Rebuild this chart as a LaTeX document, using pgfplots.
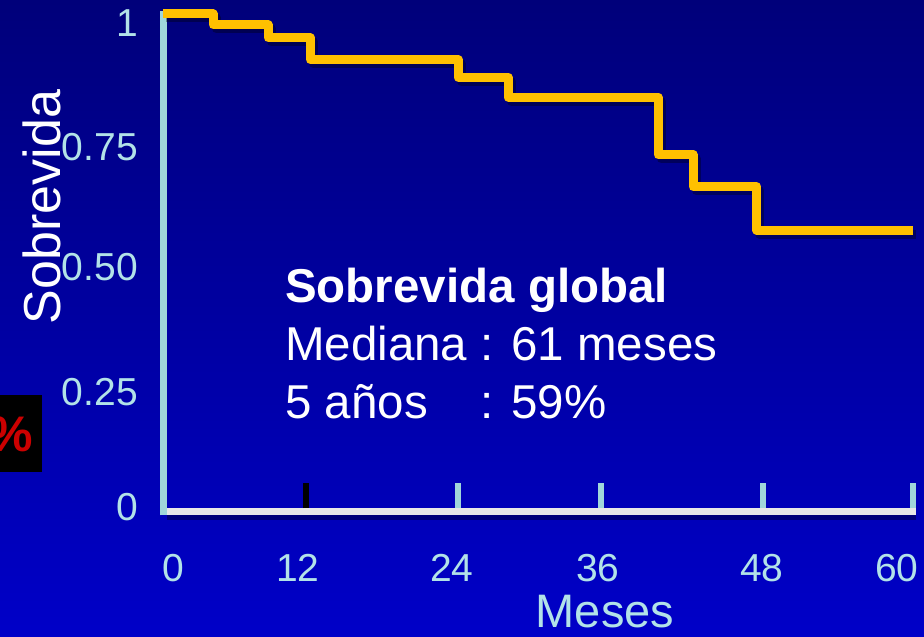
\documentclass[border=0pt]{standalone}
\usepackage{fontspec}
\setmainfont{Liberation Sans}
\usepackage{pgfplots}
\usepackage{pgfplotstable}
\pgfplotsset{compat=1.18}

\definecolor{bgtop}{RGB}{0,0,122}
\definecolor{bgbot}{RGB}{0,0,200}
\definecolor{axcyan}{RGB}{160,214,218}
\definecolor{lblcyan}{RGB}{178,226,232}
\definecolor{survcurve}{RGB}{255,192,0}
\definecolor{baseln}{RGB}{232,232,232}
\definecolor{pctred}{RGB}{204,0,0}

% Kaplan-Meier steps (meses, sobrevida)
\pgfplotstableread{
m    s
0    1.000
4.0  0.978
8.4  0.952
11.8 0.908
23.6 0.873
27.6 0.833
39.6 0.717
42.4 0.653
47.5 0.566
60.0 0.566
}\survdata

\begin{document}
\begin{tikzpicture}[x=1pt,y=1pt]
\clip (0,0) rectangle (924,637);
\shade[top color=bgtop, bottom color=bgbot] (0,0) rectangle (924,637);

% cut-off box on the left
\fill[black] (0,165) rectangle (42,242);
\node[anchor=east, inner sep=0pt, text=pctred, font=\fontsize{50}{50}\selectfont\bfseries] at (33,203) {\%};

\begin{axis}[
  at={(163pt,125pt)}, anchor=south west,
  scale only axis, width=750pt, height=498pt,
  xmin=0, xmax=60, ymin=0, ymax=1,
  clip=false,
  axis line style={draw=none},
  major tick length=0pt,
  xtick={0.8,10.8,23.1,34.8,47.9,58.7},
  xticklabels={0,12,24,36,48,60},
  ytick={0.010,0.241,0.492,0.733,0.982},
  yticklabels={0,0.25,0.50,0.75,1},
  tick label style={text=lblcyan, font=\fontsize{39}{39}\selectfont},
  xticklabel style={anchor=center, yshift=-56pt},
  yticklabel style={anchor=east, inner sep=0pt, xshift=-25pt},
  /pgf/number format/assume math mode=true,
]
% axis lines and ticks
\draw[black, opacity=0.35, line width=7pt] ([yshift=-5pt]axis cs:0.3,0) -- ([yshift=-5pt]axis cs:60.2,0);
\draw[baseln, line width=7pt] (axis cs:0.3,0) -- (axis cs:60.2,0);
\draw[axcyan, line width=7pt] (axis cs:0,-0.007) -- (axis cs:0,1.006);
\draw[black, line width=6pt] (axis cs:11.4,0.008) -- (axis cs:11.4,0.058);
\draw[axcyan, line width=6pt] (axis cs:23.6,0.008) -- (axis cs:23.6,0.058);
\draw[axcyan, line width=6pt] (axis cs:35.0,0.008) -- (axis cs:35.0,0.058);
\draw[axcyan, line width=6pt] (axis cs:48.0,0.008) -- (axis cs:48.0,0.058);
\draw[axcyan, line width=6pt] (axis cs:60.0,0.008) -- (axis cs:60.0,0.058);

% curve with shadow
\addplot[const plot, draw=black, opacity=0.35, line width=9pt, line join=round,
  transform canvas={xshift=3pt, yshift=-4pt}] table[x=m, y=s] {\survdata};
\addplot[const plot, draw=survcurve, line width=9pt, line join=round] table[x=m, y=s] {\survdata};
\end{axis}

\node[anchor=base west, inner sep=0pt, text=white, font=\fontsize{47.5}{58}\selectfont] at (285,334)
  {\begin{tabular}[t]{@{}l@{ }l@{}}
   \multicolumn{2}{@{}l@{}}{\bfseries Sobrevida global}\\
   Mediana & : 61 meses\\
   5 años & : 59\%
   \end{tabular}};

\node[text=lblcyan, font=\fontsize{47}{47}\selectfont] at (605,25) {Meses};
\node[text=white, rotate=90, font=\fontsize{52}{52}\selectfont] at (42,430) {Sobrevida};
\end{tikzpicture}
\end{document}
